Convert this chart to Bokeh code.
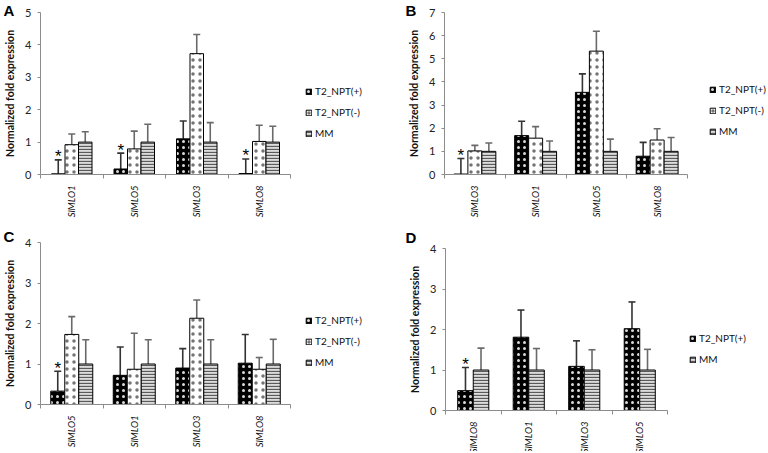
import math
from bokeh.plotting import figure
from bokeh.models import (ColumnDataSource, Whisker, TeeHead, FixedTicker, Legend,
                          LegendItem, Label, Range1d)
from bokeh.layouts import column, row
from bokeh.core.properties import value
from bokeh.embed import file_html
from bokeh.resources import INLINE

# ---------------- data ----------------
SERIES = ["T2_NPT(+)", "T2_NPT(-)", "MM"]

A_genes = ["SlMLO1", "SlMLO5", "SlMLO3", "SlMLO8"]
A_pos = [0.02, 0.17, 1.10, 0.03]
A_pos_sd = [0.43, 0.49, 0.55, 0.45]
A_neg = [0.92, 0.79, 3.73, 1.02]
A_neg_sd = [0.33, 0.55, 0.59, 0.50]
A_mm = [1.0, 1.0, 1.0, 1.0]
A_mm_sd = [0.32, 0.55, 0.60, 0.49]
A_star = [True, True, False, True]

B_genes = ["SlMLO3", "SlMLO1", "SlMLO5", "SlMLO8"]
B_pos = [0.02, 1.68, 3.55, 0.79]
B_pos_sd = [0.67, 0.62, 0.80, 0.60]
B_neg = [1.02, 1.57, 5.33, 1.49]
B_neg_sd = [0.24, 0.50, 0.86, 0.49]
B_mm = [1.0, 1.0, 1.0, 1.0]
B_mm_sd = [0.36, 0.45, 0.53, 0.60]
B_star = [True, False, False, False]

C_genes = ["SlMLO5", "SlMLO1", "SlMLO3", "SlMLO8"]
C_pos = [0.33, 0.72, 0.90, 1.02]
C_pos_sd = [0.49, 0.70, 0.48, 0.71]
C_neg = [1.73, 0.87, 2.13, 0.87]
C_neg_sd = [0.44, 0.89, 0.45, 0.29]
C_mm = [1.0, 1.0, 1.0, 1.0]
C_mm_sd = [0.60, 0.60, 0.60, 0.61]
C_star = [True, False, False, False]

D_genes = ["SlMLO8", "SlMLO1", "SlMLO3", "SlMLO5"]
D_pos = [0.49, 1.81, 1.09, 2.02]
D_pos_sd = [0.57, 0.67, 0.63, 0.66]
D_mm = [1.0, 1.0, 1.0, 1.0]
D_mm_sd = [0.54, 0.53, 0.50, 0.51]
D_star = [True, False, False, False]

Y_MAX = {"A": 5, "B": 7, "C": 4, "D": 4}

# ---------------- styles ----------------
FONT = "Lato"
AXIS_COLOR = "#8c8c8c"
STYLES = {
    "T2_NPT(+)": dict(fill_color="black", hatch_pattern="dot", hatch_color="white",
                      hatch_scale=6, hatch_weight=0.2, hatch_alpha=0.85),
    "T2_NPT(-)": dict(fill_color="white", hatch_pattern="dot", hatch_color="black",
                      hatch_scale=7, hatch_weight=0.2, hatch_alpha=0.55),
    "MM": dict(fill_color="#dcdcdc", hatch_pattern="horizontal_line", hatch_color="#5a5a5a",
               hatch_scale=3, hatch_weight=1.3),
}
ERR_COLOR = {"T2_NPT(+)": "#333333", "T2_NPT(-)": "#6a6a6a", "MM": "#6a6a6a"}


def panel(letter, genes, series, stars, ymax, geo, bar_w):
    """geo: page-pixel layout of the panel (figure box, axes ends, legend, letter)."""
    fx, fy, W, H = geo["fig"]
    ax0, ax1, ay0, aytop = geo["axes"]
    n_g = len(genes)
    ux = (ax1 - ax0) / n_g
    uy = (ay0 - aytop) / ymax
    x_lo = -(ax0 - fx) / ux
    x_hi = n_g + (fx + W - ax1) / ux
    y_hi = ymax + (aytop - fy) / uy
    y_lo = -(fy + H - ay0) / uy

    p = figure(frame_width=W, frame_height=H,
               min_border_left=0, min_border_right=0,
               min_border_top=0, min_border_bottom=0,
               x_range=Range1d(x_lo, x_hi), y_range=Range1d(y_lo, y_hi),
               output_backend="svg", toolbar_location=None)
    p.title.visible = False
    p.outline_line_color = None
    p.xgrid.visible = False
    p.ygrid.visible = False
    p.background_fill_color = "white"
    p.border_fill_color = "white"

    # y axis (drawn inside the frame at x = 0)
    yax = p.yaxis[0]
    yax.fixed_location = 0
    yax.bounds = (0, ymax)
    yax.ticker = FixedTicker(ticks=list(range(ymax + 1)))
    yax.axis_line_color = AXIS_COLOR
    yax.major_tick_line_color = AXIS_COLOR
    yax.major_tick_out = 3
    yax.major_tick_in = 0
    yax.minor_tick_line_color = None
    yax.major_label_text_font = FONT
    yax.major_label_text_font_size = "11px"
    yax.major_label_text_color = "#222222"
    yax.major_label_standoff = 6
    yax.axis_label = "Normalized fold expression"
    yax.axis_label_text_font = FONT
    yax.axis_label_text_font_style = "bold"
    yax.axis_label_text_font_size = "10.5px"
    yax.axis_label_text_color = "#111111"
    yax.axis_label_standoff = 6

    # x axis (drawn inside the frame at y = 0)
    xax = p.xaxis[0]
    xax.fixed_location = 0
    xax.bounds = (0, n_g)
    centers = [i + 0.5 for i in range(n_g)]
    xax.ticker = FixedTicker(ticks=centers, minor_ticks=list(range(n_g + 1)))
    xax.major_label_overrides = {c: g for c, g in zip(centers, genes)}
    xax.major_label_orientation = math.pi / 2
    xax.major_label_text_font = FONT
    xax.major_label_text_font_style = "italic"
    xax.major_label_text_font_size = "9.5px"
    xax.major_label_text_color = "#111111"
    xax.major_label_standoff = 5
    xax.axis_line_color = AXIS_COLOR
    xax.major_tick_line_color = None
    xax.minor_tick_line_color = AXIS_COLOR
    xax.minor_tick_out = 4
    xax.minor_tick_in = 0

    k_n = len(series)
    items = []
    star_pts = None
    for k, (name, vals, sds) in enumerate(series):
        off = (k - (k_n - 1) / 2) * bar_w
        xs = [c + off for c in centers]
        ups = [v + s for v, s in zip(vals, sds)]
        src = ColumnDataSource(dict(x=xs, top=vals, upper=ups))
        r = p.vbar(x="x", top="top", bottom=0, width=bar_w, source=src,
                   line_color="black", line_width=1, **STYLES[name])
        items.append(LegendItem(label=name, renderers=[r]))
        w = Whisker(base="x", lower="top", upper="upper", source=src,
                    line_color=ERR_COLOR[name], line_width=1.6,
                    upper_head=TeeHead(size=7, line_color=ERR_COLOR[name], line_width=1.6),
                    lower_head=None)
        p.add_layout(w)
        if name == "T2_NPT(+)":
            star_pts = ([x for x, s in zip(xs, stars) if s],
                        [u for u, s in zip(ups, stars) if s])

    if star_pts is not None:
        p.text(x=star_pts[0], y=star_pts[1], text=["*"] * len(star_pts[0]),
               text_font=value("Liberation Sans"), text_font_size="17px",
               text_align="center", text_baseline="middle", y_offset=-3,
               text_color="black")

    lx, ltop = geo["legend"]
    leg_h = 12 * k_n + 9 * (k_n - 1)
    leg = Legend(items=items, location=(lx - fx, fy + H - (ltop + leg_h)),
                 orientation="vertical",
                 glyph_width=7, glyph_height=7, label_text_font=FONT,
                 label_text_font_size="10px", label_text_color="#111111",
                 label_height=12, label_standoff=3, spacing=9,
                 padding=0, margin=0, border_line_color=None,
                 background_fill_alpha=0)
    p.add_layout(leg)

    tx, ty = geo["letter"]
    lab = Label(x=tx - fx, y=fy + H - ty, x_units="screen", y_units="screen",
                text=letter, text_font="Liberation Sans",
                text_font_style="bold", text_font_size="15px",
                text_baseline="top", text_align="left", text_color="black")
    p.add_layout(lab)
    return p


GEO_A = dict(fig=(0, 0, 383, 225), axes=(40, 290, 174, 12), legend=(305, 85), letter=(3, 1))
GEO_B = dict(fig=(383, 0, 383, 225), axes=(444, 687, 174, 12), legend=(709, 83), letter=(405, 1))
GEO_C = dict(fig=(0, 225, 383, 226), axes=(40, 290, 404, 242), legend=(305, 314), letter=(3, 227))
GEO_D = dict(fig=(383, 225, 383, 226), axes=(445, 667, 410, 248), legend=(689, 332), letter=(405, 228))

pA = panel("A", A_genes,
           [("T2_NPT(+)", A_pos, A_pos_sd), ("T2_NPT(-)", A_neg, A_neg_sd), ("MM", A_mm, A_mm_sd)],
           A_star, Y_MAX["A"], GEO_A, 0.216)
pB = panel("B", B_genes,
           [("T2_NPT(+)", B_pos, B_pos_sd), ("T2_NPT(-)", B_neg, B_neg_sd), ("MM", B_mm, B_mm_sd)],
           B_star, Y_MAX["B"], GEO_B, 0.23)
pC = panel("C", C_genes,
           [("T2_NPT(+)", C_pos, C_pos_sd), ("T2_NPT(-)", C_neg, C_neg_sd), ("MM", C_mm, C_mm_sd)],
           C_star, Y_MAX["C"], GEO_C, 0.224)
pD = panel("D", D_genes,
           [("T2_NPT(+)", D_pos, D_pos_sd), ("MM", D_mm, D_mm_sd)],
           D_star, Y_MAX["D"], GEO_D, 0.28)

layout = column(row(pA, pB), row(pC, pD))
open("out.html", "w").write(file_html(layout, INLINE))
